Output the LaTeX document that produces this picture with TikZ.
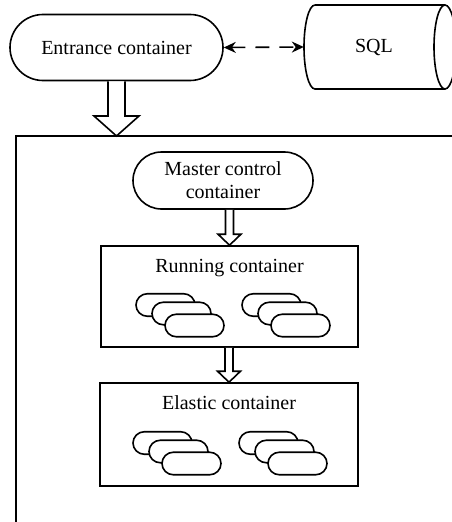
\documentclass[tikz,border=0pt]{standalone}
\usepackage{fontspec}
\setmainfont{Liberation Serif}
\usetikzlibrary{arrows.meta,shapes.misc,calc}

\tikzset{
  line/.style={line width=1.6pt},
  pill/.style={line, draw, shape=rounded rectangle, inner sep=0pt, align=center,
    font=\fontsize{20}{23}\selectfont},
  frame/.style={line, draw, rectangle, inner sep=0pt},
  minipill/.style={line, draw, fill=white, shape=rounded rectangle, inner sep=0pt,
    minimum width=59pt, minimum height=22.5pt},
  blockarrow/.style={line, line join=miter, fill=white},
  dblink/.style={line, dash pattern=on 14pt off 10pt,
    {Stealth[length=12pt,width=11pt]}-{Stealth[length=12pt,width=11pt]}},
  caption/.style={font=\fontsize{20}{23}\selectfont, anchor=base, inner sep=0pt}
}

% vertical hollow arrow: #1 source, #2 target, #3 shaft half width,
% #4 head half width, #5 head length
\newcommand\hollowarrow[5]{%
  \draw[blockarrow] let \p1=(#1), \p2=(#2) in
    (\x2-#3,\y1) -- (\x2-#3,\y2+#5) -- (\x2-#4,\y2+#5) -- (\x2,\y2)
    -- (\x2+#4,\y2+#5) -- (\x2+#3,\y2+#5) -- (\x2+#3,\y1);}

% a stack of three overlapping pills, top-left one centred at #2,#3
\newcommand\pillstack[3]{%
  \node[minipill] (#1a) at (#2,#3) {};
  \node[minipill] (#1b) at (#2+16,#3+8.5) {};
  \node[minipill] (#1c) at (#2+29,#3+20.5) {};}

\begin{document}
\begin{tikzpicture}[x=1pt,y=-1pt]
\useasboundingbox (0,0) rectangle (452,522);
\clip (0,0) rectangle (452,522);

% entrance and database
\node[pill, minimum width=213pt, minimum height=66pt] (entrance) at (116.5,47.5) {Entrance container};
\node[inner sep=0pt, minimum width=140pt, minimum height=84pt,
      font=\fontsize{20}{23}\selectfont] (sql) at (374,47) {SQL};
\draw[line] (315,5) -- (445,5);
\draw[line] (315,5) arc[start angle=270, end angle=90, x radius=11, y radius=42] -- (445,89);
\draw[line] (445,47) ellipse[x radius=11, y radius=42];
\draw[dblink] (entrance.east) -- (sql.west);

% outer region
\draw[line] (470,136) -- (16,136) -- (16,540);
\coordinate (outertop) at (116.5,136);
\hollowarrow{entrance.south}{outertop}{8.5pt}{22.5pt}{20pt}

% master control
\node[pill, minimum width=180pt, minimum height=57pt] (master) at (223,180.5) {Master control\\container};

% running container
\node[frame, minimum width=257pt, minimum height=101pt] (running) at (229.5,296.5) {};
\node[caption] (runlabel) at ($(running.north)+(0,27)$) {Running container};
\pillstack{rl}{165.5}{305}
\pillstack{rr}{271.5}{305}
\hollowarrow{master.south}{running.north}{4pt}{11.5pt}{11pt}

% elastic container
\node[frame, minimum width=258pt, minimum height=103pt] (elastic) at (229,434.5) {};
\node[caption] (elalabel) at ($(elastic.north)+(0,27)$) {Elastic container};
\pillstack{el}{162.5}{443}
\pillstack{er}{268.5}{443}
\hollowarrow{running.south}{elastic.north}{4pt}{11.5pt}{11pt}
\end{tikzpicture}
\end{document}
